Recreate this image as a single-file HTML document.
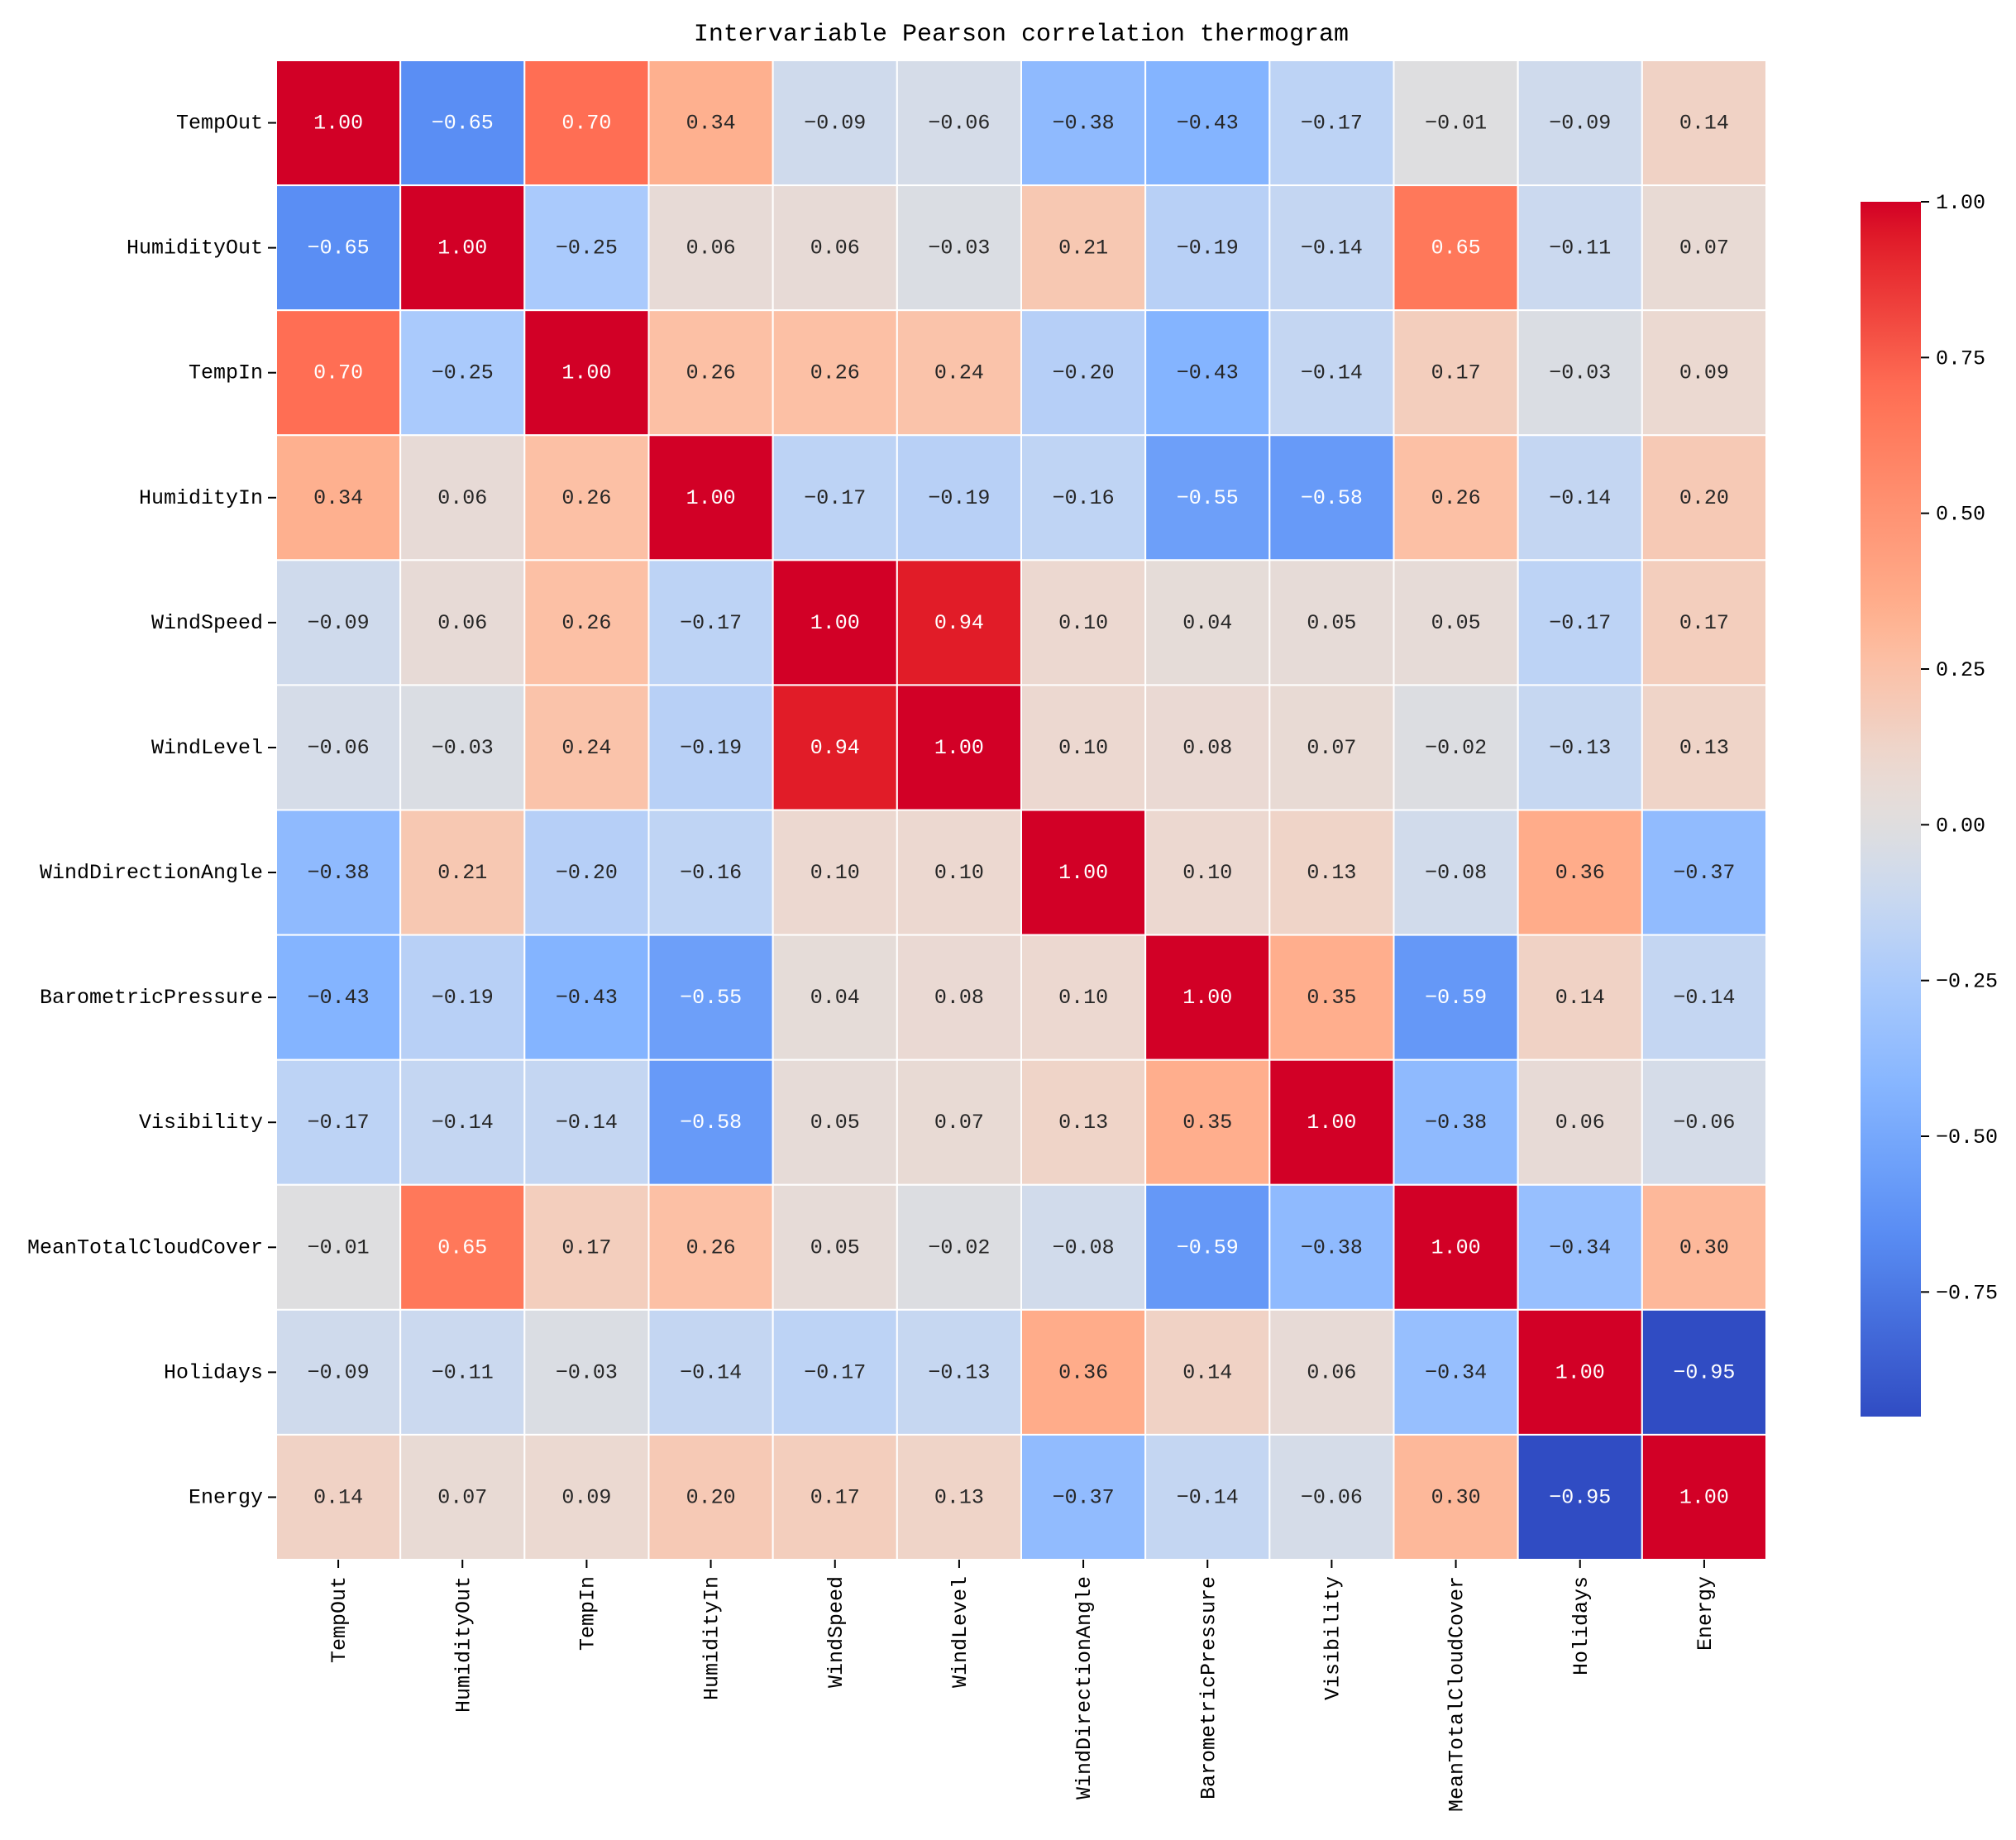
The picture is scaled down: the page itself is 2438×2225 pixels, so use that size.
<!DOCTYPE html>
<html><head><meta charset="utf-8">
<style>
html,body{margin:0;padding:0;background:#fff;}
svg{display:block;}
text{font-family:"Liberation Mono","WenQuanYi Zen Hei",monospace;}
</style></head>
<body>
<svg id="chart" width="2438" height="2225" viewBox="0 0 2438 2225" xmlns="http://www.w3.org/2000/svg">
<defs><linearGradient id="cbgrad" x1="0" y1="1" x2="0" y2="0"></linearGradient></defs>
<text x="1235" y="49" font-size="30" text-anchor="middle" fill="#000">Intervariable Pearson correlation thermogram</text>
<g id="cells"></g><g id="xaxis"></g><g id="yaxis"></g><g id="cbar"></g>
</svg>
<script>
const categories = ["TempOut","HumidityOut","TempIn","HumidityIn","WindSpeed","WindLevel","WindDirectionAngle","BarometricPressure","Visibility","MeanTotalCloudCover","Holidays","Energy"];
const row0 = [1,-0.65,0.70,0.34,-0.09,-0.06,-0.38,-0.43,-0.17,-0.01,-0.09,0.14];
const row1 = [-0.65,1,-0.25,0.06,0.06,-0.03,0.21,-0.19,-0.14,0.65,-0.11,0.07];
const row2 = [0.70,-0.25,1,0.26,0.26,0.24,-0.20,-0.43,-0.14,0.17,-0.03,0.09];
const row3 = [0.34,0.06,0.26,1,-0.17,-0.19,-0.16,-0.55,-0.58,0.26,-0.14,0.20];
const row4 = [-0.09,0.06,0.26,-0.17,1,0.94,0.10,0.04,0.05,0.05,-0.17,0.17];
const row5 = [-0.06,-0.03,0.24,-0.19,0.94,1,0.10,0.08,0.07,-0.02,-0.13,0.13];
const row6 = [-0.38,0.21,-0.20,-0.16,0.10,0.10,1,0.10,0.13,-0.08,0.36,-0.37];
const row7 = [-0.43,-0.19,-0.43,-0.55,0.04,0.08,0.10,1,0.35,-0.59,0.14,-0.14];
const row8 = [-0.17,-0.14,-0.14,-0.58,0.05,0.07,0.13,0.35,1,-0.38,0.06,-0.06];
const row9 = [-0.01,0.65,0.17,0.26,0.05,-0.02,-0.08,-0.59,-0.38,1,-0.34,0.30];
const row10 = [-0.09,-0.11,-0.03,-0.14,-0.17,-0.13,0.36,0.14,0.06,-0.34,1,-0.95];
const row11 = [0.14,0.07,0.09,0.20,0.17,0.13,-0.37,-0.14,-0.06,0.30,-0.95,1];
const matrix = [row0,row1,row2,row3,row4,row5,row6,row7,row8,row9,row10,row11];
const cbTicks = [1.00,0.75,0.50,0.25,0.00,-0.25,-0.50,-0.75];
const vmin = -0.95, vmax = 1.0;

const NS="http://www.w3.org/2000/svg";
const L=334,T=73,R=2136,B=1886;
const n=categories.length, cw=(R-L)/n, ch=(B-T)/n;
const xs=i=>L+i*cw, ys=i=>T+i*ch;
const stops=[[-0.95,[48,76,195]],[-0.65,[90,142,244]],[-0.43,[132,180,255]],[-0.25,[170,202,252]],[-0.1,[205,218,238]],[0,[224,222,222]],[0.1,[236,216,208]],[0.26,[252,192,165]],[0.36,[255,172,138]],[0.65,[255,120,90]],[0.70,[255,110,84]],[0.94,[225,28,40]],[1.0,[210,0,38]]];
function cmap(v){v=Math.max(vmin,Math.min(vmax,v));for(let i=0;i<stops.length-1;i++){const a=stops[i],b=stops[i+1];if(v<=b[0]){const t=(v-a[0])/(b[0]-a[0]);return a[1].map((c,k)=>Math.round(c+(b[1][k]-c)*t));}}return stops[stops.length-1][1];}
function lum(c){const f=x=>{x/=255;return x<=0.03928?x/12.92:Math.pow((x+0.055)/1.055,2.4)};return 0.2126*f(c[0])+0.7152*f(c[1])+0.0722*f(c[2]);}
function mk(tag,attrs,parent){const e=document.createElementNS(NS,tag);for(const k in attrs)e.setAttribute(k,attrs[k]);parent.appendChild(e);return e;}
const fmt=v=>(v<0?"\u2212":"")+Math.abs(v).toFixed(2);
const gc=document.getElementById('cells');
for(let r=0;r<n;r++)for(let c=0;c<n;c++){
  const v=matrix[r][c],col=cmap(v);
  const rect=mk('rect',{x:xs(c),y:ys(r),width:cw,height:ch,fill:`rgb(${col})`,stroke:'#fff','stroke-width':2},gc);
  
  
  const t=mk('text',{x:xs(c)+cw/2,y:ys(r)+ch/2+7,'font-size':25,'text-anchor':'middle',fill:lum(col)>0.408?'#262626':'#fff'},gc);
  
  
  t.textContent=fmt(v);
}
const gx=document.getElementById('xaxis'),gy=document.getElementById('yaxis');
categories.forEach((name,i)=>{
  const cx=xs(i)+cw/2, cy=ys(i)+ch/2;
  mk('line',{x1:cx,y1:B,x2:cx,y2:B+10,stroke:'#000','stroke-width':2},gx);
  const tx=mk('text',{x:0,y:0,'font-size':25,'text-anchor':'end',transform:`translate(${cx+8},${B+20}) rotate(-90)`,fill:'#000'},gx);
  
  
  tx.textContent=name;
  mk('line',{x1:L-10,y1:cy,x2:L,y2:cy,stroke:'#000','stroke-width':2},gy);
  const ty=mk('text',{x:L-16,y:cy+7,'font-size':25,'text-anchor':'end',fill:'#000'},gy);
  
  
  ty.textContent=name;
});
const grad=document.getElementById('cbgrad');
for(let k=0;k<=40;k++){const v=vmin+(vmax-vmin)*k/40;mk('stop',{offset:(k/40).toFixed(3),'stop-color':`rgb(${cmap(v)})`},grad);}
const CX=2250,CW=73,CT=244,CB=1713;
const cy=v=>CB-(v-vmin)/(vmax-vmin)*(CB-CT);
const gcb=document.getElementById('cbar');
const bar=mk('rect',{x:CX,y:CT,width:CW,height:CB-CT,fill:'url(#cbgrad)'},gcb);


cbTicks.forEach(v=>{
  const y=cy(v);
  mk('line',{x1:CX+CW,y1:y,x2:CX+CW+10,y2:y,stroke:'#000','stroke-width':2},gcb);
  const t=mk('text',{x:CX+CW+18,y:y+8,'font-size':25,fill:'#000'},gcb);
  
  
  t.textContent=fmt(v);
});
</script>
</body></html>
